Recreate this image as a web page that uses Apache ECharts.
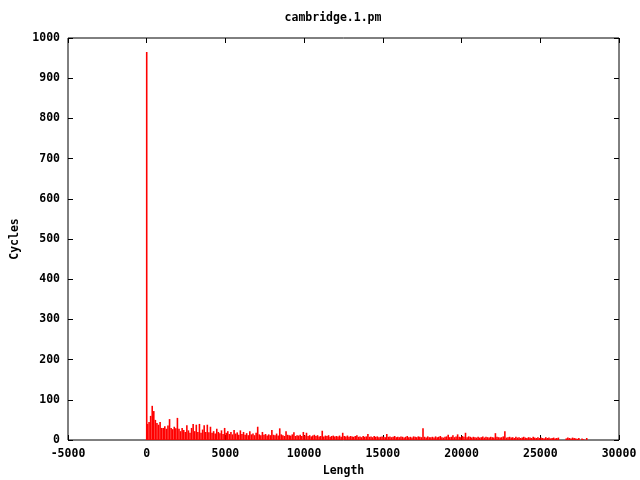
<!DOCTYPE html>
<html>
<head>
<meta charset="utf-8">
<script src="https://cdn.jsdelivr.net/npm/echarts@6/dist/echarts.min.js"></script>
<style>html,body{margin:0;padding:0;background:#fff}#c{width:640px;height:480px}</style>
</head>
<body>
<div id="c"></div>
<script>
// Chart text
const chartTitle = 'cambridge.1.pm';
const xName = 'Length';
const yName = 'Cycles';

// Axis ranges / ticks
const xMin = -5000, xMax = 30000, xStep = 5000;
const yMin = 0, yMax = 1000, yStep = 100;

// Tall spike near zero
const spikeLength = 0;
const spikeCycles = 965;

// Histogram: bins of 100 starting at 0 (Length), values = Cycles
const binStart = 0;
const binSize = 100;
const cycles = [
  40, 45, 60, 85, 72, 50, 42, 38, 45, 30,   // 0-1000
  30, 34, 28, 36, 52, 30, 27, 33, 29, 55,   // 1000-2000
  28, 22, 30, 25, 20, 37, 24, 18, 30, 40,   // 2000-3000
  22, 38, 20, 40, 18, 26, 37, 20, 38, 19,   // 3000-4000
  33, 18, 22, 16, 28, 20, 17, 24, 15, 30,   // 4000-5000
  18, 22, 15, 20, 14, 25, 16, 19, 13, 24,   // 5000-6000
  15, 20, 13, 17, 12, 22, 14, 16, 12, 18,   // 6000-7000
  33, 14, 12, 20, 13, 15, 11, 14, 12, 25,   // 7000-8000
  13, 12, 16, 11, 29, 14, 12, 10, 22, 13,   // 8000-9000
  12, 11, 14, 19, 10, 12, 11, 13, 10, 20,   // 9000-10000
  11, 18, 10, 12,  9, 11, 13, 10, 12,  9,   // 10000-11000
  10, 23,  9, 11, 10, 12,  8, 10, 11,  9,   // 11000-12000
  10,  9, 11,  8, 18, 10,  9, 11,  8, 10,   // 12000-13000
   9,  8, 10, 12,  8,  9,  7, 10,  8,  9,   // 13000-14000
  15,  8,  9,  7, 10,  8,  9,  7,  8,  9,   // 14000-15000
   8,  7, 15,  8,  9,  7,  8, 10,  7,  8,   // 15000-16000
   7,  9,  8,  6,  8, 10,  7,  8,  6,  9,   // 16000-17000
   8,  7,  9,  8,  7, 29,  8,  6,  9,  7,   // 17000-18000
   7,  8,  6,  9,  7,  8, 10,  7,  6,  8,   // 18000-19000
   9, 13,  7,  8, 12,  7,  9, 14,  8,  7,   // 19000-20000
  10,  8, 18,  7,  9,  8,  6,  8,  7,  6,   // 20000-21000
   8,  6,  7,  9,  6,  8,  7,  6,  8,  7,   // 21000-22000
   6, 17,  8,  7,  6,  7,  9, 22,  6,  7,   // 22000-23000
   8,  6,  7,  5,  8,  6,  7,  5,  6,  8,   // 23000-24000
   6,  5,  7,  6,  5,  8,  6,  5,  7,  5,   // 24000-25000
   6,  5,  4,  7,  5,  6,  4,  5,  6,  4,   // 25000-26000
   5,  6,  0,  0,  0,  0,  4,  6,  5,  4,   // 26000-27000
   6,  5,  4,  3,  5,  0,  4,  2,  0,  5    // 27000-28000
];

const data = [[spikeLength, spikeCycles]];
cycles.forEach((v, i) => data.push([binStart + binSize * i + binSize / 2, v]));

const font = '"DejaVu Sans Mono", "Liberation Mono", monospace';
const txt = { fontFamily: font, fontWeight: 'bold', fontSize: 11.5, color: '#000' };
const plain = v => String(v);

const chart = echarts.init(document.getElementById('c'), null, { renderer: 'canvas' });
const tick = { show: true, inside: true, length: 5, lineStyle: { color: '#000', width: 1 } };
const noLine = { show: false, onZero: false };
chart.setOption({
  animation: false,
  backgroundColor: '#fff',
  grid: { left: 68, right: 21, top: 38, bottom: 40, containLabel: false, outerBoundsMode: 'none',
          show: true, borderColor: '#000', borderWidth: 1, backgroundColor: 'transparent' },
  graphic: [{
    type: 'text', x: 333, y: 18,
    style: { text: chartTitle, font: 'bold 11.5px ' + font, fill: '#000', align: 'center', verticalAlign: 'middle' }
  }],
  xAxis: [{
    type: 'value', min: xMin, max: xMax, interval: xStep,
    axisLine: noLine, splitLine: { show: false }, axisTick: tick,
    axisLabel: Object.assign({ margin: 8, formatter: plain }, txt),
    name: xName, nameLocation: 'middle', nameGap: 25, nameTextStyle: txt
  }, {
    type: 'value', min: xMin, max: xMax, interval: xStep, position: 'top',
    axisLine: noLine, splitLine: { show: false }, axisTick: tick, axisLabel: { show: false }
  }],
  yAxis: [{
    type: 'value', min: yMin, max: yMax, interval: yStep,
    axisLine: noLine, splitLine: { show: false }, axisTick: tick,
    axisLabel: Object.assign({ margin: 8, formatter: plain }, txt),
    name: yName, nameLocation: 'middle', nameGap: 46, nameRotate: 90, nameTextStyle: txt
  }, {
    type: 'value', min: yMin, max: yMax, interval: yStep, position: 'right',
    axisLine: noLine, splitLine: { show: false }, axisTick: tick, axisLabel: { show: false }
  }],
  series: [{
    type: 'bar', xAxisIndex: 0, yAxisIndex: 0,
    data: data, barWidth: 1.6, large: false,
    itemStyle: { color: '#ff0000' }
  }]
});
</script>
</body>
</html>
